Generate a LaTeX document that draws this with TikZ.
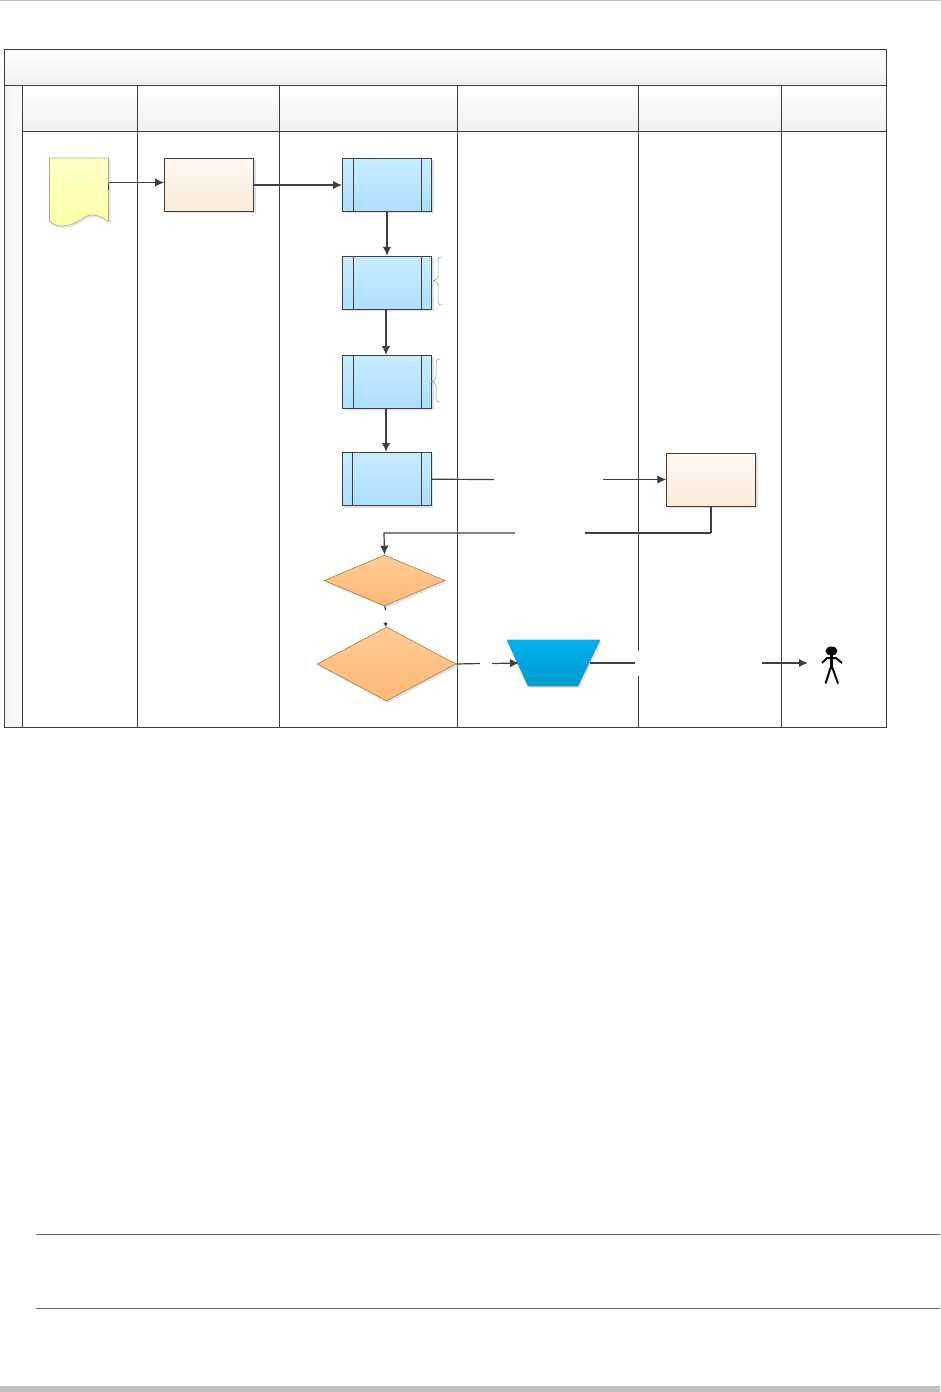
\documentclass[tikz,border=0pt]{standalone}
\usetikzlibrary{arrows.meta,shapes.geometric,shadows,calc}
\definecolor{ln}{HTML}{3F3F3F}
\definecolor{taskTop}{HTML}{FFF7F0}\definecolor{taskBot}{HTML}{FAEBDA}
\definecolor{subTop}{HTML}{C9EBFF}\definecolor{subBot}{HTML}{ADDFFF}
\definecolor{ruleC}{HTML}{5A6E70}
\definecolor{docTop}{HTML}{FFFFC8}\definecolor{docBot}{HTML}{FFFFA8}\definecolor{docLn}{HTML}{B0B078}
\definecolor{decTop}{HTML}{FFCB96}\definecolor{decBot}{HTML}{FFB874}\definecolor{decLn}{HTML}{A87C52}
\definecolor{trapTop}{HTML}{00B0F0}\definecolor{trapBot}{HTML}{0099CC}\definecolor{trapLn}{HTML}{3A9CC0}
\tikzset{
  x=1pt,y=-1pt,
  lane/.style={draw=ln,line width=1pt},
  head/.style={lane,top color=white,bottom color=black!6},
  conn/.style={draw=ln,line width=1.2pt,-{Latex[length=9pt,width=8.5pt]}},
  plain/.style={draw=ln,line width=1.2pt},
  gaplabel/.style={fill=white,draw=none,inner sep=0pt,rectangle},
  boxbase/.style={rectangle,draw=ln,line width=1pt,inner sep=0pt,minimum width=89pt,minimum height=53pt},
  taskbox/.style={boxbase,top color=taskTop,bottom color=taskBot,drop shadow={shadow xshift=2pt,shadow yshift=-2pt,fill=black!12,opacity=1}},
  subbox/.style={boxbase,top color=subTop,bottom color=subBot,drop shadow={shadow xshift=2pt,shadow yshift=-2pt,fill=black!12,opacity=1}},
  brace/.style={draw=black!40,line width=0.5pt},
  rule/.style={draw=ruleC,line width=0.8pt},
  decision/.style={draw=decLn,line width=0.6pt,diamond,inner sep=0pt,top color=decTop,bottom color=decBot},
}
\begin{document}
\begin{tikzpicture}
\useasboundingbox (0,0) rectangle (940,1392);
% page furniture
\fill[black!25] (0,0) rectangle (940,1);
\fill[black!25] (0,1386) rectangle (940,1392);
\draw[rule] (36,1234.5) -- (940,1234.5);
\draw[rule] (36,1308.5) -- (940,1308.5);
% swimlane frame
\draw[head] (4.5,49.5) rectangle (886.5,85.5);
\draw[lane,left color=black!6,right color=white] (4.5,85.5) rectangle (22.5,727);
\foreach \a/\b in {22.5/137.5,137.5/279.5,279.5/457.5,457.5/638.5,638.5/781.5,781.5/886.5}{
  \draw[head] (\a,85.5) rectangle (\b,131.5);
  \draw[lane,fill=white] (\a,131.5) rectangle (\b,727);
}
% document
\fill[black!10] (51,160) -- (110.5,160) -- (110.5,224) .. controls (104,219) and (98,217) .. (93,217) .. controls (84,217) and (78,228) .. (63,228) .. controls (58,228) and (54,226) .. (51,224) -- cycle;
\draw[draw=docLn,line width=0.6pt,top color=docTop,bottom color=docBot] (49.5,158) -- (108.5,158) -- (108.5,221.5) .. controls (102,217) and (97,215) .. (92,215) .. controls (83,215) and (77,226) .. (62,226) .. controls (57,226) and (53,224) .. (49.5,221.5) -- cycle;
\coordinate (doc) at (108.5,182.5);
% boxes
\node[taskbox] (taskA) at (209,184.5) {};
\node[taskbox] (taskB) at (711.25,479.5) {};
\node[subbox] (sub1) at (387,184.75) {};
\node[subbox] (sub2) at (387,282.75) {};
\node[subbox] (sub3) at (387,381.5) {};
\node[subbox] (sub4) at (386.5,479.25) {};
\foreach \n in {sub1,sub2,sub3,sub4}{
  \draw[lane] ($(\n.north west)+(11,0)$) -- ($(\n.south west)+(11,0)$);
  \draw[lane] ($(\n.north east)+(-10.5,0)$) -- ($(\n.south east)+(-10.5,0)$);
}
% braces
\draw[brace] (442,257) .. controls (438,257) and (438,259) .. (438,262) -- (438,276) .. controls (438,279) and (436,280) .. (433.5,280.5) .. controls (436,281) and (438,282) .. (438,285) -- (438,300) .. controls (438,303) and (438,305) .. (442,305);
\draw[brace] (440,359) .. controls (436,359) and (436,361) .. (436,364) -- (436,377) .. controls (436,380) and (433.5,381) .. (431,381.5) .. controls (433.5,382) and (436,383) .. (436,386) -- (436,398) .. controls (436,400) and (436,402) .. (440,402);
% decisions
\fill[black!10] (386.5,557) -- (447,582.5) -- (386.5,608) -- (326,582.5) -- cycle;
\fill[black!10] (388,629) -- (458,666) -- (388,703) -- (319,666) -- cycle;
\node[decision,aspect=2.37,minimum width=121pt,minimum height=51pt] (dec1) at (384.5,580.5) {};
\node[decision,aspect=1.88,minimum width=139pt,minimum height=74pt] (dec2) at (386.5,664) {};
% trapezoid
\fill[black!10] (509,642) -- (602,642) -- (580,688) -- (530,688) -- cycle;
\draw[draw=trapLn,line width=0.6pt,top color=trapTop,bottom color=trapBot] (507,640) -- (600,640) -- (578,686) -- (528,686) -- cycle;
\coordinate (trapL) at (519,663);
\coordinate (trapR) at (590,663);
% person
\fill[black] (831.5,651) ellipse (6pt and 4.5pt);
\draw[black,line width=2pt] (822,663) -- (827,658) -- (836,658) -- (842,663);
\draw[black,line width=3pt] (831.5,655) -- (831.5,668);
\draw[black,line width=2pt,line join=round] (825.5,683.5) -- (830.5,668) -- (832.5,668) -- (838,683.5);
\coordinate (person) at (808,663);
% gaps carrying the connector labels
\node[gaplabel,minimum width=109pt,minimum height=14pt] (lab1) at (548.5,479.5) {};
\node[gaplabel,minimum width=70pt,minimum height=14pt] (lab2) at (550,533) {};
\node[gaplabel,minimum width=12pt,minimum height=12pt] (lab3) at (385.5,616) {};
\node[gaplabel,minimum width=12pt,minimum height=14pt] (lab4) at (486,663.5) {};
\node[gaplabel,minimum width=127pt,minimum height=25pt] (lab5) at (698.5,663) {};
% connectors
\draw[conn] (doc) -- (taskA.west |- doc);
\draw[plain] (doc) -- ++(0,7);
\draw[conn] (taskA.east |- 0,185) -- (sub1.west |- 0,185);
\draw[conn] (sub1.south) -- (sub2.north);
\draw[conn] (386,309) -- (386,355);
\draw[conn,line width=1.7pt] (386,408) -- (386,452);
\draw[plain] (sub4.east) -- (lab1.west);
\draw[conn] (lab1.east) -- (taskB.west);
\draw[plain] (lab2.east) -- (711,533);
\draw[plain,line width=1.8pt] (711,533) -- (711,506);
\draw[conn] (lab2.west) -- (384,533) -- (dec1.north);
\draw[plain] (dec1.south) ++(0.3,0) -- (385.5,610);
\draw[draw=ln,line width=0.8pt,-{Latex[length=4pt,width=4.5pt]}] (lab3.south) -- (386,627);
\draw[plain] (dec2.east) -- (lab4.west);
\draw[conn] (lab4.east) -- (trapL);
\draw[plain,line width=1.8pt] (trapR) -- (lab5.west);
\draw[conn,line width=1.8pt] (lab5.east) -- (person);
\end{tikzpicture}
\end{document}
